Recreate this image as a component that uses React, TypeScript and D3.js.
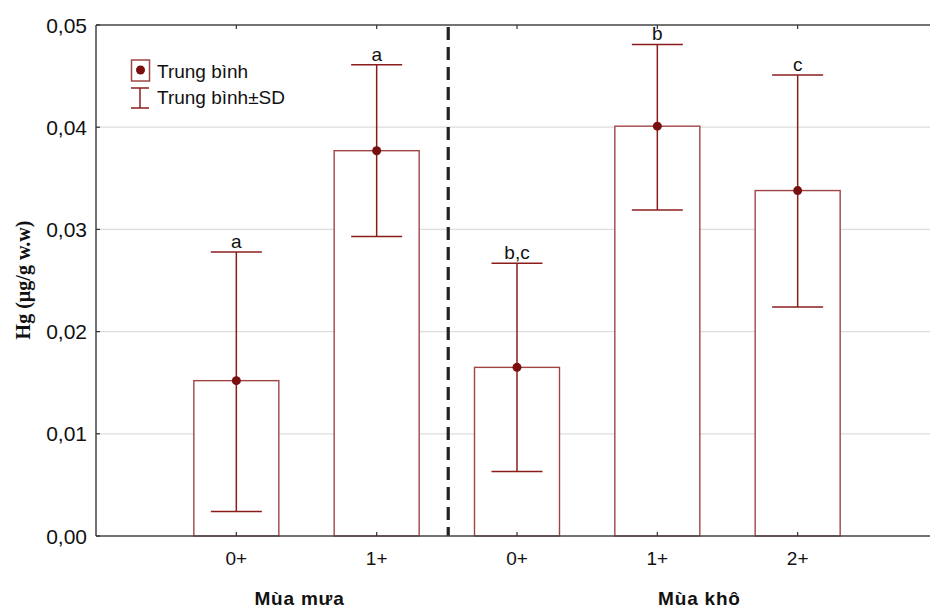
import React from "react";
import * as d3 from "d3";

const categories = ["0+", "1+", "0+", "1+", "2+"];
const positions = [1, 2, 3, 4, 5];
const means = [0.0152, 0.0377, 0.0165, 0.0401, 0.0338];
const upper = [0.0278, 0.0461, 0.0267, 0.0481, 0.0451];
const lower = [0.0024, 0.0293, 0.0063, 0.0319, 0.0224];
const letters = ["a", "a", "b,c", "b", "c"];
const yTicks = [0, 0.01, 0.02, 0.03, 0.04, 0.05];
const groups = [
  { name: "Mùa mưa", at: 1.45 },
  { name: "Mùa khô", at: 4.3 },
];
const dividerAt = 2.51;

const W = 930;
const H = 608;
const L = 96;
const T = 25;
const B = 536;

export default function App() {
  const x = d3.scaleLinear().domain([0, 6]).range([L, 938]);
  const y = d3.scaleLinear().domain([0, 0.05]).range([B, T]);
  const fmt = (v: number) => d3.format(".2f")(v).replace(".", ",");
  const barW = 85;
  const capW = 51;
  const red = "#8b1c1c";
  const barStroke = "#a04545";
  const font = "'Liberation Sans', Arial, sans-serif";

  return (
    <svg
      width={W}
      height={H}
      style={{ position: "absolute", left: 0, top: 0, background: "#fff" }}
      fontFamily={font}
    >
      {yTicks.slice(1, -1).map((t) => (
        <line key={"g" + t} x1={L} x2={W} y1={y(t)} y2={y(t)} stroke="#dddddd" strokeWidth={1.2} />
      ))}
      {means.map((m, i) => (
        <rect
          key={"b" + i}
          x={x(positions[i]) - barW / 2}
          y={y(m)}
          width={barW}
          height={y(0) - y(m)}
          fill="#fff"
          stroke={barStroke}
          strokeWidth={1.4}
        />
      ))}
      {means.map((m, i) => {
        const cx = x(positions[i]);
        return (
          <g key={"e" + i} stroke={red} strokeWidth={1.5}>
            <line x1={cx} x2={cx} y1={y(upper[i])} y2={y(lower[i])} />
            <line x1={cx - capW / 2} x2={cx + capW / 2} y1={y(upper[i])} y2={y(upper[i])} />
            <line x1={cx - capW / 2} x2={cx + capW / 2} y1={y(lower[i])} y2={y(lower[i])} />
          </g>
        );
      })}
      {means.map((m, i) => (
        <circle key={"d" + i} cx={x(positions[i])} cy={y(m)} r={4.5} fill="#7a0f0f" />
      ))}
      {letters.map((l, i) => (
        <text
          key={"l" + i}
          x={x(positions[i])}
          y={y(upper[i]) - 4}
          textAnchor="middle"
          fontSize={19}
          fill="#111"
        >
          {l}
        </text>
      ))}
      <line
        x1={x(dividerAt)}
        x2={x(dividerAt)}
        y1={T + 2}
        y2={B}
        stroke="#222"
        strokeWidth={3.2}
        strokeDasharray="13,7"
      />
      <line x1={L} x2={W} y1={T} y2={T} stroke="#444" strokeWidth={1.5} />
      <line x1={L} x2={W} y1={B} y2={B} stroke="#444" strokeWidth={1.5} />
      <line x1={L} x2={L} y1={T} y2={B} stroke="#444" strokeWidth={1.5} />
      {yTicks.map((t) => (
        <g key={"yt" + t}>
          <line x1={L} x2={L + 4} y1={y(t)} y2={y(t)} stroke="#333" strokeWidth={1.2} />
          <text x={87} y={y(t) + 7.5} textAnchor="end" fontSize={21} fill="#111">
            {fmt(t)}
          </text>
        </g>
      ))}
      {positions.map((p, i) => (
        <g key={"xt" + i}>
          <line x1={x(p)} x2={x(p)} y1={B} y2={B - 4} stroke="#333" strokeWidth={1.2} />
          <line x1={x(p)} x2={x(p)} y1={T} y2={T + 4} stroke="#333" strokeWidth={1.2} />
          <text x={x(p)} y={565} textAnchor="middle" fontSize={19} fill="#111">
            {categories[i]}
          </text>
        </g>
      ))}
      {groups.map((g) => (
        <text
          key={g.name}
          x={x(g.at)}
          y={605}
          textAnchor="middle"
          fontSize={19}
          fontWeight="bold"
          letterSpacing={0.8}
          fill="#111"
        >
          {g.name}
        </text>
      ))}
      <text
        transform={`translate(30,280) rotate(-90)`}
        textAnchor="middle"
        fontFamily="'Liberation Serif', 'Times New Roman', serif"
        fontWeight="bold"
        fontSize={20}
        fill="#111"
      >
        Hg (µg/g w.w)
      </text>
      <g>
        <rect x={131.5} y={60} width={18} height={21} fill="#fff" stroke={barStroke} strokeWidth={1.5} />
        <circle cx={140.5} cy={70} r={4.5} fill="#7a0f0f" />
        <text x={157} y={78} fontSize={19} fill="#111">
          Trung bình
        </text>
        <g stroke={red} strokeWidth={1.5}>
          <line x1={131} x2={149} y1={88} y2={88} />
          <line x1={140} x2={140} y1={88} y2={108} />
          <line x1={131} x2={149} y1={108} y2={108} />
        </g>
        <text x={157} y={104} fontSize={19} fill="#111">
          Trung bình±SD
        </text>
      </g>
    </svg>
  );
}
